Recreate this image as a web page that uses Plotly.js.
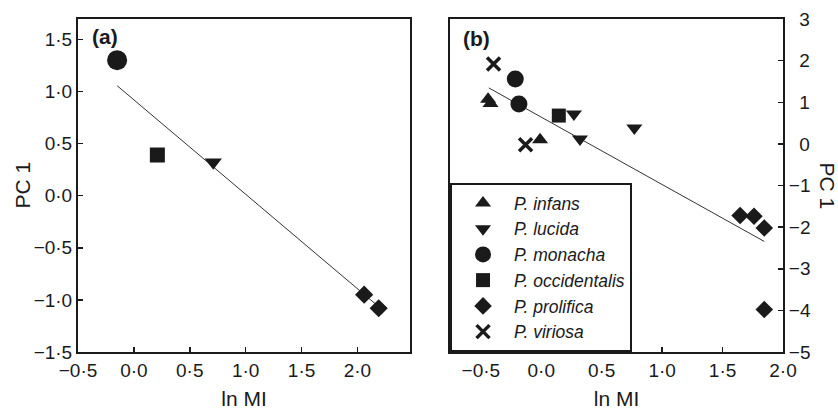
<!DOCTYPE html>
<html>
<head>
<meta charset="utf-8">
<script src="https://cdn.plot.ly/plotly-3.0.1.min.js"></script>
<style>html,body{margin:0;padding:0;background:#fff;}#chart{width:838px;height:412px;}</style>
</head>
<body>
<div id="chart"></div>
<script>
// ---------- Panel (a) data ----------
var aMonachaX = [-0.15];
var aMonachaY = [1.30];
var aOccidentalisX = [0.21];
var aOccidentalisY = [0.39];
var aLucidaX = [0.71];
var aLucidaY = [0.32];
var aProlificaX = [2.06, 2.19];
var aProlificaY = [-0.95, -1.08];
var aFitX = [-0.15, 2.19];
var aFitY = [1.055, -1.065];

// ---------- Panel (b) data ----------
var bInfansX = [-0.44, -0.42, -0.01];
var bInfansY = [1.07, 0.97, 0.10];
var bLucidaX = [0.27, 0.32, 0.77];
var bLucidaY = [0.72, 0.12, 0.38];
var bMonachaX = [-0.215, -0.185];
var bMonachaY = [1.56, 0.96];
var bOccidentalisX = [0.145];
var bOccidentalisY = [0.68];
var bProlificaX = [1.645, 1.76, 1.845, 1.845];
var bProlificaY = [-1.72, -1.74, -2.02, -3.98];
var bViriosaX = [-0.395, -0.13];
var bViriosaY = [1.92, -0.02];
var bFitX = [-0.434, 1.845];
var bFitY = [1.344, -2.344];

// ---------- Tick labels ----------
var xTickVals = [-0.5, 0, 0.5, 1, 1.5, 2];
var xTickText = ['\u22120\u00b75', '0\u00b70', '0\u00b75', '1\u00b70', '1\u00b75', '2\u00b70'];
var aYTickVals = [-1.5, -1, -0.5, 0, 0.5, 1, 1.5];
var aYTickText = ['\u22121\u00b75', '\u22121\u00b70', '\u22120\u00b75', '0\u00b70', '0\u00b75', '1\u00b70', '1\u00b75'];
var bYTickVals = [-5, -4, -3, -2, -1, 0, 1, 2, 3];
var bYTickText = ['\u22125', '\u22124', '\u22123', '\u22122', '\u22121', '\u20070', '\u20071', '\u20072', '\u20073'];

var speciesNames = ['P. infans', 'P. lucida', 'P. monacha', 'P. occidentalis', 'P. prolifica', 'P. viriosa'];

var INK = '#1a1a1a';
var FONT = 'Liberation Sans, Arial, sans-serif';

function pts(x, y, name, symbol, size, xa, ya, show, extra) {
  var m = {symbol: symbol, size: size, color: INK, line: {width: 0, color: INK}};
  if (extra) for (var k in extra) m[k] = extra[k];
  return {type: 'scatter', mode: 'markers', x: x, y: y, name: name,
          xaxis: xa, yaxis: ya, showlegend: show, marker: m, hoverinfo: 'skip'};
}

var data = [
  // panel b (legend order)
  {type: 'scatter', mode: 'lines', x: bFitX, y: bFitY, xaxis: 'x2', yaxis: 'y2', showlegend: false,
   line: {color: '#333', width: 1}},
  pts(bInfansX, bInfansY, speciesNames[0], 'triangle-up', 14, 'x2', 'y2', true),
  pts(bLucidaX, bLucidaY, speciesNames[1], 'triangle-down', 14, 'x2', 'y2', true),
  pts(bMonachaX, bMonachaY, speciesNames[2], 'circle', 17, 'x2', 'y2', true),
  pts(bOccidentalisX, bOccidentalisY, speciesNames[3], 'square', 14, 'x2', 'y2', true),
  pts(bProlificaX, bProlificaY, speciesNames[4], 'diamond', 13.5, 'x2', 'y2', true),
  pts(bViriosaX, bViriosaY, speciesNames[5], 'x-thin', 13, 'x2', 'y2', true, {line: {width: 3.5, color: INK}}),
  // panel a
  {type: 'scatter', mode: 'lines', x: aFitX, y: aFitY, xaxis: 'x', yaxis: 'y', showlegend: false,
   line: {color: '#333', width: 1}},
  pts(aMonachaX, aMonachaY, speciesNames[2], 'circle', 20, 'x', 'y', false),
  pts(aOccidentalisX, aOccidentalisY, speciesNames[3], 'square', 15, 'x', 'y', false),
  pts(aLucidaX, aLucidaY, speciesNames[1], 'triangle-down', 15, 'x', 'y', false),
  pts(aProlificaX, aProlificaY, speciesNames[4], 'diamond', 14, 'x', 'y', false)
];

function axisBase() {
  return {showgrid: false, zeroline: false, showline: true, linecolor: INK, linewidth: 2,
          mirror: true, ticks: 'inside', ticklen: 5, tickwidth: 1.5, tickcolor: INK,
          tickfont: {family: FONT, size: 19, color: INK}, automargin: false, fixedrange: true};
}

var xa = axisBase();
xa.domain = [0, 0.4709]; xa.range = [-0.5, 2.47];
xa.tickmode = 'array'; xa.tickvals = xTickVals; xa.ticktext = xTickText;
xa.title = {text: 'ln MI', font: {family: FONT, size: 21, color: INK}, standoff: 12};
xa.anchor = 'y';

var ya = axisBase();
ya.domain = [0, 1]; ya.range = [-1.5, 1.695];
ya.tickmode = 'array'; ya.tickvals = aYTickVals; ya.ticktext = aYTickText;
ya.anchor = 'x';

var xb = axisBase();
xb.domain = [0.5277, 1]; xb.range = [-0.755, 2.0];
xb.tickmode = 'array'; xb.tickvals = xTickVals; xb.ticktext = xTickText;
xb.title = {text: 'ln MI', font: {family: FONT, size: 21, color: INK}, standoff: 12};
xb.anchor = 'y2';

var yb = axisBase();
yb.domain = [0, 1]; yb.range = [-5, 3];
yb.tickmode = 'array'; yb.tickvals = bYTickVals; yb.ticktext = bYTickText;
yb.side = 'right'; yb.anchor = 'x2';

var layout = {
  width: 838, height: 412,
  margin: {l: 78, r: 55, t: 19, b: 60},
  paper_bgcolor: '#fff', plot_bgcolor: '#fff',
  font: {family: FONT, color: INK},
  xaxis: xa, yaxis: ya, xaxis2: xb, yaxis2: yb,
  showlegend: true,
  legend: {
    x: 0.5277, y: 0, xanchor: 'left', yanchor: 'bottom', xref: 'paper', yref: 'paper',
    bgcolor: '#fff', bordercolor: INK, borderwidth: 2,
    font: {family: FONT, size: 17.5, color: INK, style: 'italic'},
    itemwidth: 52, indentation: 0, tracegroupgap: 0
  },
  annotations: [
    {text: '<b>(a)</b>', xref: 'x', yref: 'y', x: -0.26, y: 1.53, showarrow: false,
     font: {family: FONT, size: 21, color: INK}},
    {text: '<b>(b)</b>', xref: 'x2', yref: 'y2', x: -0.537, y: 2.52, showarrow: false,
     font: {family: FONT, size: 21, color: INK}},
    {text: 'PC 1', xref: 'paper', yref: 'paper', x: 0, xshift: -56, y: 0.5,
     xanchor: 'center', yanchor: 'middle',
     textangle: -90, showarrow: false, font: {family: FONT, size: 21, color: INK}},
    {text: 'PC 1', xref: 'paper', yref: 'paper', x: 1, xshift: 44, y: 0.5,
     xanchor: 'center', yanchor: 'middle',
     textangle: 90, showarrow: false, font: {family: FONT, size: 21, color: INK}}
  ]
};

Plotly.newPlot('chart', data, layout, {staticPlot: true, displayModeBar: false});
</script>
</body>
</html>
